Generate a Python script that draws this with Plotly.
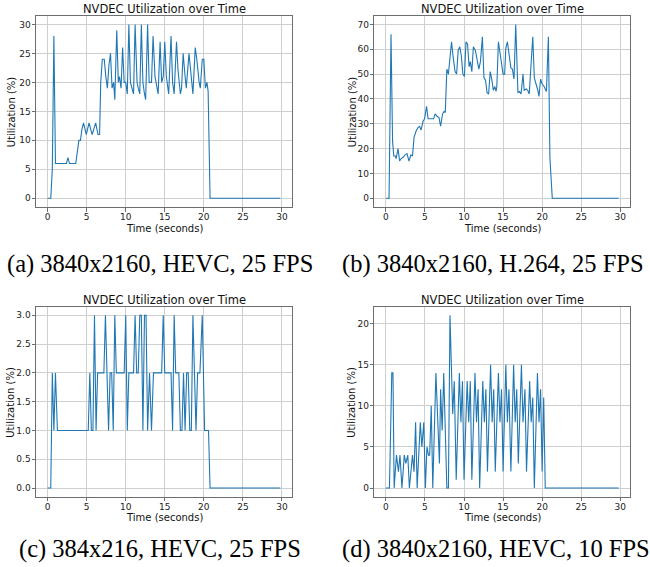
import plotly.graph_objects as go

# ---------------- data ----------------
A_T = [0, 0.4, 0.6, 0.8, 1.0, 2.4, 2.6, 2.8, 3.6, 3.8, 4.0, 4.2, 4.4, 4.6, 4.95,
       5.3, 5.7, 6.15, 6.45, 6.65, 6.8, 7.0, 7.25, 7.45, 7.65, 7.85, 8.05, 8.25, 8.45, 8.6,
       8.85, 9.05, 9.2, 9.4, 9.6, 9.8, 10.0, 10.2, 10.4, 10.6, 10.8, 11.0, 11.2, 11.45, 11.6,
       11.8, 12.0, 12.2, 12.4, 12.55, 12.8, 13.0, 13.3, 13.5, 13.75, 13.9, 14.15, 14.4, 14.6, 14.8,
       15.0, 15.2, 15.5, 15.8, 16.0, 16.2, 16.5, 16.7, 17.0, 17.15, 17.35, 17.6, 17.75, 18.1, 18.3,
       18.6, 18.9, 19.1, 19.4, 19.55, 19.8, 20.0, 20.2, 20.4, 20.55, 20.8, 29.8]
A_V = [0, 0, 5, 28, 6, 6, 7, 6, 6, 8, 10, 10, 12, 13, 11,
       13, 11, 13, 11, 11, 20, 24, 24, 21, 19, 23, 25, 19, 20, 17,
       29, 20, 21, 19, 26, 20, 20, 18, 30, 20, 19, 18, 30, 20, 19,
       18, 30, 20, 18, 17, 30, 20, 20, 28, 21, 20, 18, 27, 20, 21,
       27, 21, 18, 28, 20, 18, 27, 22, 18, 19, 25, 21, 19, 25, 22,
       18, 26, 24, 20, 19, 24, 24, 19, 20, 18.5, 0, 0]

B_T = [0, 0.4, 0.65, 0.85, 1.0, 1.2, 1.3, 1.55, 1.75, 1.95, 2.2, 2.45, 2.7, 2.95, 3.2,
       3.4, 3.6, 3.85, 4.1, 4.3, 4.5, 4.75, 4.95, 5.2, 5.4, 6.1, 6.3, 6.55, 6.8, 7.0,
       7.25, 7.45, 7.6, 7.8, 8.0, 8.2, 8.4, 8.6, 8.85, 9.05, 9.25, 9.45, 9.65, 9.85, 10.05,
       10.25, 10.45, 10.65, 10.8, 11.0, 11.2, 11.45, 11.7, 11.9, 12.1, 12.35, 12.55, 12.75, 12.95, 13.15,
       13.35, 13.55, 13.75, 13.95, 14.1, 14.2, 14.4, 14.6, 14.85, 15.0, 15.2, 15.35, 15.55, 15.8, 16.0,
       16.2, 16.4, 16.62, 16.9, 17.1, 17.3, 17.55, 17.7, 17.95, 18.15, 18.35, 18.6, 18.8, 19.0, 19.2,
       19.45, 19.6, 19.8, 20.0, 20.25, 20.55, 20.8, 21.0, 21.3, 29.8]
B_V = [0, 0, 66, 23, 17, 17, 16, 20, 15, 16, 16.5, 17.5, 18, 15, 17.5,
       17, 24.5, 27, 28.5, 29, 27.5, 31, 32, 37, 32, 32, 34, 33, 32.5, 29,
       34, 35, 34.5, 52, 50, 57, 63, 57, 51, 50, 59.5, 61, 57.5, 50, 49,
       63, 62, 53, 55, 51, 61, 59.5, 56, 52, 55, 65, 48.5, 47.5, 42.5, 42,
       51, 48, 43.5, 45, 43, 45, 63, 58.5, 53, 50, 50, 60.5, 63, 58, 52.5,
       52, 48, 70, 42.5, 43, 42, 50, 43.5, 44, 43.5, 42, 56, 65, 48.5, 46.5,
       43.5, 41, 48, 46, 45, 43, 65, 16, 0, 0]

C_T = [0, 0.4, 0.6, 0.8, 1.0, 1.25, 5.2, 5.4, 5.6, 5.8, 6.0, 6.2, 6.4, 7.2, 7.4,
       7.8, 8.0, 8.2, 8.4, 8.6, 8.8, 9.8, 10.0, 10.2, 10.4, 11.0, 11.2, 11.4, 11.6, 11.8,
       12.0, 12.2, 12.4, 12.6, 12.8, 13.05, 13.3, 13.55, 14.6, 14.8, 15.0, 15.8, 16.0, 16.2, 16.4,
       16.8, 17.0, 17.2, 17.4, 17.6, 17.8, 18.0, 18.2, 18.4, 18.6, 18.8, 19.0, 19.2, 19.5, 19.8,
       20.1, 20.6, 20.8, 29.8]
C_V = [0, 0, 2, 1, 2, 1, 1, 2, 1, 1, 3, 1, 2, 2, 3,
       1, 2, 2, 1, 3, 2, 2, 3, 1, 2, 2, 3, 2, 2, 3,
       3, 1, 3, 3, 1, 2, 1, 2, 2, 3, 2, 2, 1, 3, 2,
       2, 1, 1, 2, 1, 2, 2, 1, 1, 3, 2, 1, 2, 2, 3,
       1, 1, 0, 0]

D_T = [0, 0.45, 0.75, 0.9, 1.05, 1.35, 1.6, 1.8, 2.05, 2.35, 2.55, 2.8, 3.0, 3.4, 3.6,
       3.8, 4.0, 4.4, 4.6, 4.85, 5.05, 5.25, 5.45, 5.6, 5.8, 6.0, 6.4, 6.85, 7.0, 7.2,
       7.4, 7.8, 8.0, 8.2, 8.55, 8.75, 9.0, 9.4, 9.6, 9.8, 10.0, 10.4, 10.6, 10.8, 11.0,
       11.4, 11.6, 11.8, 12.0, 12.4, 12.6, 12.8, 13.0, 13.4, 13.6, 13.8, 14.0, 14.4, 14.6, 14.8,
       15.0, 15.35, 15.55, 15.75, 16.0, 16.35, 16.55, 16.75, 16.95, 17.35, 17.55, 17.8, 18.0, 18.4, 18.6,
       18.8, 19.0, 19.4, 19.6, 19.8, 20.0, 20.2, 20.4, 29.8]
D_V = [0, 0, 14, 14, 0, 4, 2, 4, 0, 4, 3, 4, 0, 4, 2,
       8, 0, 8, 5, 8, 0, 5, 4, 4, 10, 0, 14, 3, 12, 7,
       14, 0, 0, 21, 9, 13, 1, 14, 8, 13, 1, 13, 8, 13, 1,
       14, 8, 12, 0, 13, 8, 12, 2, 15, 8, 12, 2, 14, 8, 12,
       2, 15, 8, 12, 2, 15, 8, 12, 3, 15, 8, 12, 2, 13, 8,
       11, 0, 14, 8, 12, 2, 11, 0, 0]

TITLE = "NVDEC Utilization over Time"
XLABEL = "Time (seconds)"
YLABEL = "Utilization (%)"
X_TICKS = [0, 5, 10, 15, 20, 25, 30]
Y_TICKS = {
    "a": [0, 5, 10, 15, 20, 25, 30],
    "b": [0, 10, 20, 30, 40, 50, 60, 70],
    "c": [0.0, 0.5, 1.0, 1.5, 2.0, 2.5, 3.0],
    "d": [0, 5, 10, 15, 20],
}
CAPTIONS = {
    "a": "(a) 3840x2160, HEVC, 25 FPS",
    "b": "(b) 3840x2160, H.264, 25 FPS",
    "c": "(c) 384x216, HEVC, 25 FPS",
    "d": "(d) 3840x2160, HEVC, 10 FPS",
}

# ---------------- layout helpers ----------------
W, H = 650, 567
def px(x):
    return x / W
def py(y):
    return 1 - y / H

LINE_COLOR = "#1f77b4"
SANS = "DejaVu Sans"
SERIF = "Liberation Serif"

panels = [
    # key, T, V, left, right, top, bottom (pixels)
    ("a", A_T, A_V, 36, 292, 15.7, 207),
    ("b", B_T, B_V, 374.3, 630.3, 15.7, 207),
    ("c", C_T, C_V, 36, 292, 306.7, 496.7),
    ("d", D_T, D_V, 374.3, 630.3, 306.7, 496.7),
]

fig = go.Figure()
annotations = []
layout = {}
for i, (key, T, V, l, r, t, b) in enumerate(panels, start=1):
    xa = "xaxis" if i == 1 else f"xaxis{i}"
    ya = "yaxis" if i == 1 else f"yaxis{i}"
    xref = "x" if i == 1 else f"x{i}"
    yref = "y" if i == 1 else f"y{i}"
    fig.add_trace(go.Scatter(x=T, y=V, mode="lines", xaxis=xref, yaxis=yref,
                             line=dict(color=LINE_COLOR, width=1.1), showlegend=False,
                             hoverinfo="skip"))
    xmin, xmax = 0, 29.8
    ymax = max(V)
    xm = (xmax - xmin) * 0.05
    ym = ymax * 0.05
    common = dict(showline=True, mirror=True, linecolor="#6e6e6e", linewidth=1,
                  showgrid=True, gridcolor="#cfcfcf", gridwidth=1, zeroline=False,
                  ticks="outside", ticklen=3.5, tickcolor="#6e6e6e", tickwidth=1,
                  tickfont=dict(family=SANS, size=9, color="#222"))
    layout[xa] = dict(domain=[px(l), px(r)], anchor=yref, range=[xmin - xm, xmax + xm],
                      tickvals=X_TICKS, ticklabelstandoff=-2, **common)
    ytick = Y_TICKS[key]
    yfmt = ".1f" if key == "c" else "d"
    layout[ya] = dict(domain=[py(b), py(t)], anchor=xref, range=[-ym, ymax + ym],
                      tickvals=ytick, tickformat=yfmt, ticklabelstandoff=-1, **common)
    cx = (l + r) / 2
    cy = (t + b) / 2
    annotations.append(dict(text=TITLE, x=px(cx), y=py(t - 7), xref="paper", yref="paper",
                            xanchor="center", yanchor="middle", showarrow=False,
                            font=dict(family=SANS, size=11.5, color="#111")))
    annotations.append(dict(text=XLABEL, x=px(cx), y=py(b + 21), xref="paper", yref="paper",
                            xanchor="center", yanchor="middle", showarrow=False,
                            font=dict(family=SANS, size=10, color="#111")))
    ylx = 11 if key in ("a", "c") else 352
    annotations.append(dict(text=YLABEL, x=px(ylx), y=py(cy + 1), xref="paper", yref="paper",
                            xanchor="center", yanchor="middle", showarrow=False, textangle=-90,
                            font=dict(family=SANS, size=10, color="#111")))

# captions
CAP_FONT = dict(family=SERIF, size=24.5, color="#000")
for key, x, y in (("a", 5, 264), ("b", 340, 264), ("c", 17, 549), ("d", 340, 549)):
    annotations.append(dict(text=CAPTIONS[key], x=px(x), y=py(y), xref="paper", yref="paper",
                            xanchor="left", yanchor="middle", showarrow=False, font=CAP_FONT))

fig.update_layout(width=W, height=H, margin=dict(l=0, r=0, t=0, b=0),
                  paper_bgcolor="white", plot_bgcolor="white",
                  annotations=annotations, **layout)

fig.write_html("out.html")
